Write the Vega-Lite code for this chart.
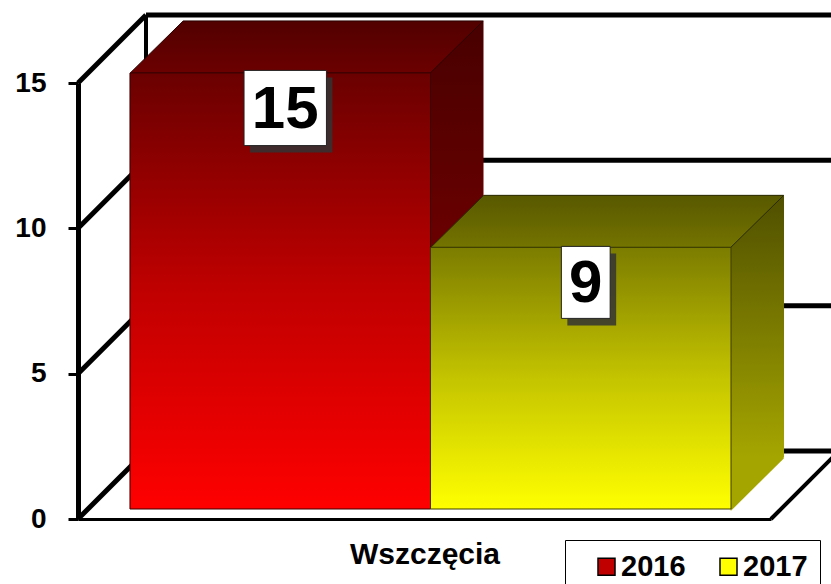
{
  "$schema": "https://vega.github.io/schema/vega-lite/v6.json",
  "width": 693,
  "height": 436,
  "autosize": {"type": "none"},
  "padding": {"left": 78, "top": 83, "right": 60, "bottom": 65},
  "background": "white",
  "config": {"view": {"stroke": null}, "font": "Liberation Sans"},
  "datasets": {
    "bars": [{"year": "2016", "value": 15}, {"year": "2017", "value": 9}],
    "grid": [{"v": 0}, {"v": 5}, {"v": 10}, {"v": 15}]
  },
  "layer": [
    {
      "data": {"name": "grid"},
      "mark": {"type": "rule", "strokeWidth": 5, "color": "black", "yOffset": -68},
      "encoding": {
        "y": {
          "field": "v", "type": "quantitative", "scale": {"domain": [0, 15], "nice": false},
          "axis": {"title": null, "values": [0, 5, 10, 15], "grid": false, "domainColor": "black", "domainWidth": 5, "tickColor": "black", "tickWidth": 3, "tickSize": 10, "labelFontSize": 28, "labelFontWeight": "bold", "labelColor": "black", "labelPadding": 22}
        },
        "x": {"value": 68},
        "x2": {"value": 800}
      }
    },
    {
      "data": {"name": "grid"},
      "mark": {"type": "rule", "strokeWidth": 5, "color": "black", "y2Offset": -68},
      "encoding": {
        "y": {"field": "v", "type": "quantitative"},
        "y2": {"field": "v"},
        "x": {"value": 0},
        "x2": {"value": 68}
      }
    },
    {
      "data": {"name": "grid"},
      "mark": {"type": "rule", "strokeWidth": 4, "color": "black", "yOffset": -68, "y2Offset": -68},
      "encoding": {
        "x": {"value": 68},
        "y": {"aggregate": "min", "field": "v", "type": "quantitative"},
        "y2": {"aggregate": "max", "field": "v"}
      }
    },
    {
      "data": {"name": "grid"},
      "mark": {"type": "rule", "strokeWidth": 4, "color": "black", "y2Offset": -68},
      "encoding": {
        "x": {"value": 693},
        "x2": {"value": 761},
        "y": {"aggregate": "min", "field": "v", "type": "quantitative"},
        "y2": {"aggregate": "min", "field": "v"}
      }
    },
    {
      "data": {"name": "bars"},
      "transform": [{"filter": "datum.year === '2016'"}],
      "mark": {"type": "bar", "xOffset": 59, "x2Offset": 59, "yOffset": -62, "y2Offset": -60,
        "fill": {"gradient": "linear", "x1": 0, "y1": 0, "x2": 0, "y2": 1, "stops": [{"offset": 0, "color": "#480000"}, {"offset": 1, "color": "#8a0000"}]}},
      "encoding": {
        "x": {"field": "year", "type": "nominal", "scale": {"type": "band", "domain": ["2016", "2017"], "paddingInner": 0, "paddingOuter": 0.153}},
        "y": {"field": "value", "type": "quantitative"}
      }
    },
    {
      "data": {"name": "bars"},
      "transform": [{"filter": "datum.year === '2017'"}],
      "mark": {"type": "bar", "xOffset": 59, "x2Offset": 59, "yOffset": -62, "y2Offset": -60,
        "fill": {"gradient": "linear", "x1": 0, "y1": 0, "x2": 0, "y2": 1, "stops": [{"offset": 0, "color": "#4f4f00"}, {"offset": 1, "color": "#a5a500"}]}},
      "encoding": {
        "x": {"field": "year", "type": "nominal"},
        "y": {"field": "value", "type": "quantitative"}
      }
    },
    {
      "data": {"name": "bars"},
      "transform": [{"filter": "datum.year === '2017'"}],
      "mark": {"type": "point", "filled": true, "opacity": 1, "size": 11236, "xOffset": 156, "yOffset": -8, "strokeWidth": 0, "fill": "#a5a500", "shape": "M0,0L0,-1.04L1,-1.04L1,-0.99Z"},
      "encoding": {
        "x": {"field": "year", "type": "nominal"},
        "y": {"datum": 0, "type": "quantitative"}
      }
    },
    {
      "data": {"name": "bars"},
      "transform": [{"filter": "datum.year === '2016'"}],
      "mark": {"type": "point", "filled": true, "opacity": 1, "size": 90000, "xOffset": 6, "yOffset": -10, "strokeWidth": 1, "stroke": "#2a0000",
        "shape": "M-1,0L1,0L1.353,-0.347L-0.647,-0.347Z",
        "fill": {"gradient": "linear", "x1": 0, "y1": 0, "x2": 0, "y2": 1, "stops": [{"offset": 0, "color": "#520000"}, {"offset": 1, "color": "#6c0000"}]}},
      "encoding": {
        "x": {"field": "year", "type": "nominal"},
        "y": {"field": "value", "type": "quantitative"}
      }
    },
    {
      "data": {"name": "bars"},
      "transform": [{"filter": "datum.year === '2017'"}],
      "mark": {"type": "point", "filled": true, "opacity": 1, "size": 90000, "xOffset": 6, "yOffset": -10, "strokeWidth": 1, "stroke": "#2a2a00",
        "shape": "M-1,0L1,0L1.353,-0.347L-0.647,-0.347Z",
        "fill": {"gradient": "linear", "x1": 0, "y1": 0, "x2": 0, "y2": 1, "stops": [{"offset": 0, "color": "#585800"}, {"offset": 1, "color": "#747400"}]}},
      "encoding": {
        "x": {"field": "year", "type": "nominal"},
        "y": {"field": "value", "type": "quantitative"}
      }
    },
    {
      "data": {"name": "bars"},
      "mark": {"type": "bar", "xOffset": 6, "x2Offset": 6, "yOffset": -10, "y2Offset": -8},
      "encoding": {
        "x": {
          "field": "year", "type": "nominal",
          "axis": {"title": "Wszczęcia", "labels": false, "ticks": false, "domainColor": "black", "domainWidth": 3, "titleFontSize": 30, "titleFontWeight": "bold", "titleColor": "black", "titlePadding": 20, "grid": false}
        },
        "y": {"field": "value", "type": "quantitative"},
        "color": {
          "field": "year", "type": "nominal",
          "scale": {"domain": ["2016", "2017"], "range": ["#c00000", "#ffff00"]},
          "legend": {
            "orient": "none", "legendX": 487, "legendY": 457, "direction": "horizontal", "columns": 2,
            "title": null, "symbolType": "square", "symbolSize": 289, "symbolStrokeColor": "black", "symbolStrokeWidth": 1.5, "symbolOpacity": 1,
            "labelFontSize": 29, "labelFontWeight": "bold", "labelColor": "black", "labelOffset": 0, "columnPadding": 13,
            "padding": 12, "symbolOffset": 15, "strokeColor": "black"
          }
        }
      }
    },
    {
      "data": {"name": "bars"},
      "transform": [{"filter": "datum.year === '2016'"}],
      "mark": {"type": "bar", "xOffset": 6, "x2Offset": 6, "yOffset": -10, "y2Offset": -8, "strokeWidth": 1, "stroke": "#3a0000",
        "fill": {"gradient": "linear", "x1": 0, "y1": 0, "x2": 0, "y2": 1, "stops": [{"offset": 0, "color": "#6a0000"}, {"offset": 0.5, "color": "#c00000"}, {"offset": 1, "color": "#ff0000"}]}},
      "encoding": {
        "x": {"field": "year", "type": "nominal"},
        "y": {"field": "value", "type": "quantitative"}
      }
    },
    {
      "data": {"name": "bars"},
      "transform": [{"filter": "datum.year === '2017'"}],
      "mark": {"type": "bar", "xOffset": 6, "x2Offset": 6, "yOffset": -10, "y2Offset": -8, "strokeWidth": 1, "stroke": "#3a3a00",
        "fill": {"gradient": "linear", "x1": 0, "y1": 0, "x2": 0, "y2": 1, "stops": [{"offset": 0, "color": "#7c7c00"}, {"offset": 0.5, "color": "#c4c400"}, {"offset": 1, "color": "#ffff00"}]}},
      "encoding": {
        "x": {"field": "year", "type": "nominal"},
        "y": {"field": "value", "type": "quantitative"}
      }
    },
    {
      "data": {"name": "bars"},
      "transform": [{"filter": "datum.year === '2016'"}],
      "mark": {"type": "point", "filled": true, "opacity": 0.85, "size": 6400, "xOffset": 17, "yOffset": 32, "strokeWidth": 0, "fill": "#333333", "shape": "M-1.03,-0.94L1.03,-0.94L1.03,0.94L-1.03,0.94Z"},
      "encoding": {
        "x": {"field": "year", "type": "nominal"},
        "y": {"field": "value", "type": "quantitative"}
      }
    },
    {
      "data": {"name": "bars"},
      "transform": [{"filter": "datum.year === '2017'"}],
      "mark": {"type": "point", "filled": true, "opacity": 0.85, "size": 6400, "xOffset": 17, "yOffset": 32, "strokeWidth": 0, "fill": "#333333", "shape": "M-0.61,-0.9L0.61,-0.9L0.61,0.9L-0.61,0.9Z"},
      "encoding": {
        "x": {"field": "year", "type": "nominal"},
        "y": {"field": "value", "type": "quantitative"}
      }
    },
    {
      "data": {"name": "bars"},
      "transform": [{"filter": "datum.year === '2016'"}],
      "mark": {"type": "point", "filled": true, "opacity": 1, "size": 6400, "xOffset": 11, "yOffset": 25, "strokeWidth": 1, "fill": "white", "stroke": "#222222", "shape": "M-1.03,-0.94L1.03,-0.94L1.03,0.94L-1.03,0.94Z"},
      "encoding": {
        "x": {"field": "year", "type": "nominal"},
        "y": {"field": "value", "type": "quantitative"}
      }
    },
    {
      "data": {"name": "bars"},
      "transform": [{"filter": "datum.year === '2017'"}],
      "mark": {"type": "point", "filled": true, "opacity": 1, "size": 6400, "xOffset": 11, "yOffset": 25, "strokeWidth": 1, "fill": "white", "stroke": "#222222", "shape": "M-0.61,-0.9L0.61,-0.9L0.61,0.9L-0.61,0.9Z"},
      "encoding": {
        "x": {"field": "year", "type": "nominal"},
        "y": {"field": "value", "type": "quantitative"}
      }
    },
    {
      "data": {"name": "bars"},
      "mark": {"type": "text", "fontSize": 60, "fontWeight": "bold", "color": "black", "dx": 11, "dy": 27, "baseline": "middle", "align": "center"},
      "encoding": {
        "x": {"field": "year", "type": "nominal"},
        "y": {"field": "value", "type": "quantitative"},
        "text": {"field": "value", "type": "quantitative"}
      }
    }
  ]
}
